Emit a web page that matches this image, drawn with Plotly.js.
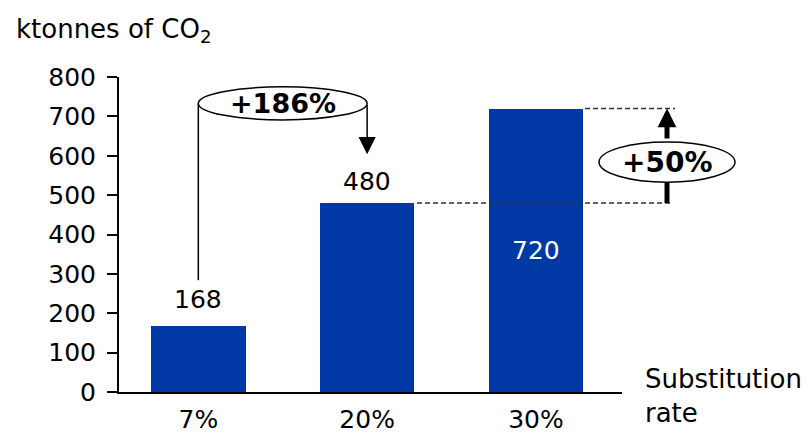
<!DOCTYPE html>
<html><head><meta charset="utf-8">
<script src="https://cdn.plot.ly/plotly-3.0.1.min.js"></script>
<style>html,body{margin:0;padding:0;background:#fff}#c{width:811px;height:434px}</style>
</head><body><div id="c"></div>
<script>
const categories = ['7%', '20%', '30%'];
const values = [168, 480, 720];
const yTicks = [0, 100, 200, 300, 400, 500, 600, 700, 800];
const increaseLabels = ['+186%', '+50%'];
const yTitle = 'ktonnes of CO<sub>2</sub>';
const xTitle = 'Substitution<br>rate';

const F = 'DejaVu Sans, Verdana, sans-serif';
const FS = 25;
const blue = '#0039A6';
const xIdx = categories.map((_, i) => i);
const barW = 0.56;

const trace = {
  type: 'bar', x: xIdx, y: values, width: barW,
  marker: {color: blue}, hoverinfo: 'none'
};

const L = 119, R = 811 - 622, T = 77, B = 42;
const plotW = 811 - L - R;
const plotH = 434 - T - B;
const px2paper = p => (p - L) / plotW;
const py2paper = p => (434 - B - p) / plotH;

const rightX = px2paper(667);

const shapes = [
  {type: 'line', xref: 'x', yref: 'y', x0: 0, x1: 0, y0: 284, y1: 733, line: {color: '#000', width: 1.5}},
  {type: 'circle', xref: 'x', yref: 'y', x0: 0, x1: 1, y0: 691, y1: 775, line: {color: '#000', width: 1.5}, fillcolor: '#fff'},
  {type: 'line', xref: 'paper', yref: 'y', x0: px2paper(585), x1: px2paper(675), y0: values[2], y1: values[2], line: {color: '#333', width: 1.3, dash: '5px,3px'}},
  {type: 'line', xref: 'paper', yref: 'y', x0: px2paper(417), x1: px2paper(672), y0: values[1], y1: values[1], line: {color: '#333', width: 1.3, dash: '5px,3px'}},
  {type: 'line', xref: 'paper', yref: 'y', x0: rightX, x1: rightX, y0: values[1], y1: 540, line: {color: '#000', width: 5}},
  {type: 'circle', xref: 'paper', yref: 'y', x0: px2paper(599), x1: px2paper(735), y0: 533, y1: 635, line: {color: '#000', width: 1.5}, fillcolor: '#fff'}
];

const annotations = [
  {xref: 'paper', yref: 'paper', x: px2paper(14), y: py2paper(30), xanchor: 'left', yanchor: 'middle',
   text: yTitle, showarrow: false, font: {family: F, size: 26, color: '#000'}},
  {xref: 'paper', yref: 'paper', x: px2paper(643), y: py2paper(396), xanchor: 'left', yanchor: 'middle',
   text: xTitle, showarrow: false, align: 'left', font: {family: F, size: 26, color: '#000'}},
  {x: 0, y: values[0], yshift: 26, text: String(values[0]), showarrow: false, font: {family: F, size: FS, color: '#000'}},
  {x: 1, y: values[1], yshift: 22, text: String(values[1]), showarrow: false, font: {family: F, size: FS, color: '#000'}},
  {x: 2, y: values[2] / 2, text: String(values[2]), showarrow: false, font: {family: F, size: FS, color: '#fff'}},
  {x: 1, y: 604, ax: 1, ay: 733, axref: 'x', ayref: 'y', text: '', showarrow: true,
   arrowhead: 2, arrowsize: 2.3, arrowwidth: 1.5, arrowcolor: '#000'},
  {x: 0.5, y: 733, xanchor: 'center', yanchor: 'middle', text: '<b>' + increaseLabels[0] + '</b>', showarrow: false, font: {family: F, size: 27, color: '#000'}},
  {xref: 'paper', yref: 'y', x: rightX, y: values[2], ax: 0, ay: 640, axref: 'pixel', ayref: 'y', text: '', showarrow: true,
   arrowhead: 2, arrowsize: 0.75, arrowwidth: 5, arrowcolor: '#000'},
  {xref: 'paper', yref: 'y', x: rightX, y: 584, xanchor: 'center', yanchor: 'middle', text: '<b>' + increaseLabels[1] + '</b>', showarrow: false, font: {family: F, size: 28, color: '#000'}}
];

const layout = {
  width: 811, height: 434,
  margin: {l: L, r: R, t: T, b: B, pad: 0},
  paper_bgcolor: '#fff', plot_bgcolor: '#fff',
  showlegend: false,
  bargap: 0,
  xaxis: {
    range: [-0.47, 2.51], tickvals: xIdx, ticktext: categories,
    showgrid: false, zeroline: false, showline: true, linecolor: '#000', linewidth: 2,
    ticks: '', ticklabelstandoff: 4,
    tickfont: {family: F, size: FS, color: '#000'}, fixedrange: true
  },
  yaxis: {
    range: [0, 800], tickvals: yTicks,
    showgrid: false, zeroline: false, showline: true, linecolor: '#000', linewidth: 2,
    ticks: 'outside', ticklen: 10, tickwidth: 2, tickcolor: '#000', ticklabelstandoff: 6,
    tickfont: {family: F, size: FS, color: '#000'}, fixedrange: true
  },
  shapes: shapes,
  annotations: annotations
};

Plotly.newPlot('c', [trace], layout, {staticPlot: true, displayModeBar: false});
</script></body></html>
